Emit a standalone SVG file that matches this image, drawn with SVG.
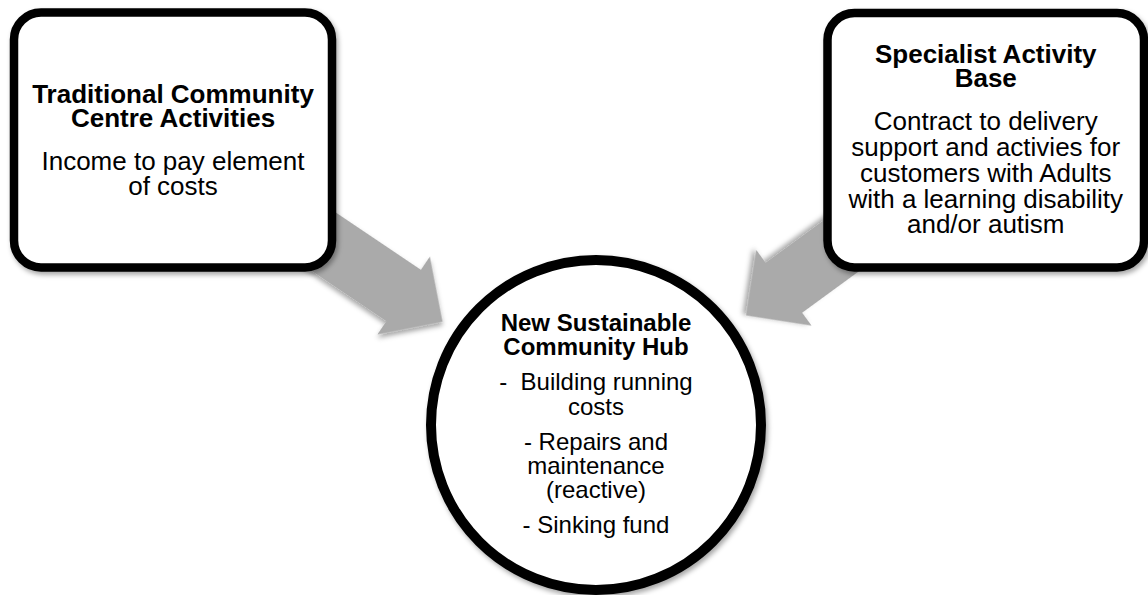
<svg xmlns="http://www.w3.org/2000/svg" width="1148" height="595" viewBox="0 0 1148 595">
  <defs>
    <filter id="soft-shadow" x="-10%" y="-10%" width="125%" height="130%">
      <feDropShadow dx="2" dy="3" stdDeviation="2.5" flood-color="#000" flood-opacity="0.35"/>
    </filter>
  </defs>
  <style>
    .arrow { fill: #aaaaaa; filter: url(#soft-shadow); }
    .box { fill: #ffffff; stroke: #000000; stroke-width: 8.5; filter: url(#soft-shadow); }
    .hub { fill: #ffffff; stroke: #000000; stroke-width: 10; filter: url(#soft-shadow); }
    text { font-family: "Liberation Sans", Arial, sans-serif; fill: #000000; text-anchor: middle; }
    .title { font-weight: bold; font-size: 26px; }
    .body { font-size: 26px; }
    .hub-title { font-weight: bold; font-size: 24px; }
    .hub-body { font-size: 24px; white-space: pre; }
  </style>

  <!-- connectors: block arrows from each side box into the hub -->
  <g id="connectors">
    <polygon class="arrow" transform="translate(173,140.25) rotate(33.95)"
             points="0,-31 278,-31 278,-47 325,0 278,47 278,31 0,31"/>
    <polygon class="arrow" transform="translate(985.75,140.25) rotate(143.85)"
             points="0,-31 250,-31 250,-47 297,0 250,47 250,31 0,31"/>
  </g>

  <!-- left box -->
  <g id="traditional-activities">
    <rect class="box" x="14" y="12.5" width="318" height="255" rx="27" ry="27"/>
    <text class="title" x="173" y="103">Traditional Community</text>
    <text class="title" x="173" y="127">Centre Activities</text>
    <text class="body" x="173" y="169.5">Income to pay element</text>
    <text class="body" x="173" y="195">of costs</text>
  </g>

  <!-- right box -->
  <g id="specialist-base">
    <rect class="box" x="827.5" y="13" width="316.5" height="254.5" rx="27" ry="27"/>
    <text class="title" x="985.75" y="63">Specialist Activity</text>
    <text class="title" x="985.75" y="87">Base</text>
    <text class="body" x="985.75" y="130">Contract to delivery</text>
    <text class="body" x="985.75" y="156">support and activies for</text>
    <text class="body" x="985.75" y="182">customers with Adults</text>
    <text class="body" x="985.75" y="207.5">with a learning disability</text>
    <text class="body" x="985.75" y="233">and/or autism</text>
  </g>

  <!-- central hub -->
  <g id="community-hub">
    <circle class="hub" cx="596" cy="425" r="165"/>
    <text class="hub-title" x="596" y="331">New Sustainable</text>
    <text class="hub-title" x="596" y="355">Community Hub</text>
    <text class="hub-body" x="596" y="390">-  Building running</text>
    <text class="hub-body" x="596" y="415">costs</text>
    <text class="hub-body" x="596" y="450">- Repairs and</text>
    <text class="hub-body" x="596" y="474">maintenance</text>
    <text class="hub-body" x="596" y="498">(reactive)</text>
    <text class="hub-body" x="596" y="533">- Sinking fund</text>
  </g>
</svg>
